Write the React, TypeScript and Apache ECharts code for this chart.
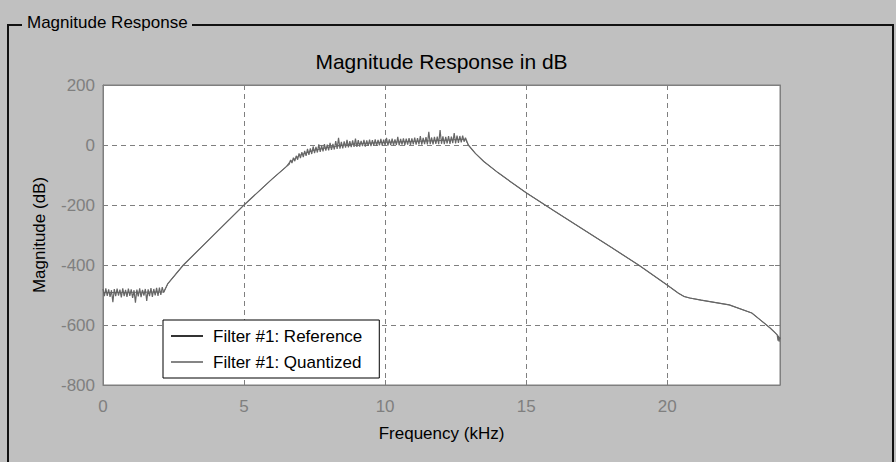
import React, { useEffect, useRef } from "react";
import * as echarts from "echarts";

// ---- data ----
const noiseStep = 0.05; // kHz sampling grid of the noisy segments

// Quantized filter, stopband noise, 0 .. 2.15 kHz
const stopNoiseStart = 0;
const stopbandNoise = [
  -480, -504, -478, -503, -481, -506, -484, -524, -480, -504,
  -479, -502, -482, -508, -478, -504, -483, -506, -479, -503,
  -481, -510, -484, -526, -482, -505, -478, -507, -483, -502,
  -480, -520, -481, -504, -477, -506, -480, -501, -476, -503,
  -475, -500, -474, -492,
];

// rising transition band (both filters)
const riseFreq = [2.3, 2.85, 4, 5, 6, 6.5];
const riseMag = [-462, -400, -293, -200, -113, -72];

// Quantized filter, passband noise, 6.6 .. 12.85 kHz
const passNoiseStart = 6.6;
const passbandNoise = [
  -64, -50, -60, -42, -54, -36, -49, -28, -44, -24,
  -40, -20, -36, -13, -33, -11, -30, -5, -27, -6,
  -25, 2, -23, -2, -21, 3, -19, 1, -18, 7,
  -16, 4, -15, 13, -13, 24, -12, 10, -11, 12,
  -9, 17, -8, 13, -7, 15, -6, 21, -6, 16,
  -5, 14, -4, 17, -5, 15, -3, 18, -4, 16,
  -2, 19, -3, 17, -1, 20, -2, 18, -1, 24,
  -2, 19, 0, 21, -1, 19, 0, 27, -1, 20,
  1, 22, 0, 21, 1, 23, 0, 22, 2, 25,
  1, 23, 2, 30, 1, 24, 3, 26, 2, 44,
  3, 25, 2, 27, 4, 28, 3, 50, 4, 29,
  3, 27, 5, 30, 4, 28, 6, 40, 5, 31,
  7, 30, 9, 31, 11, 24,
];

// falling transition / upper stopband (both filters)
const fallFreq = [12.95, 13.2, 13.5, 14, 14.5, 15, 16, 17, 18, 19, 20, 20.4, 20.6, 20.8, 21.2, 22.2, 23, 23.3, 23.65, 23.85];
const fallMag = [0, -28, -55, -92, -126, -159, -220, -280, -340, -401, -467, -494, -505, -510, -517, -533, -560, -583, -610, -628];

// Quantized filter, noise at the Nyquist end
const endNoiseFreq = [23.9, 23.93, 23.95, 23.97, 23.99, 24];
const endNoiseMag = [-633, -652, -636, -656, -640, -648];

// Reference filter (smooth) stopband / passband / end
const refStopFreq = [0, 2.15];
const refStopMag = [-492, -490];
const refPassFreq = [6.6, 6.8, 7, 7.5, 8, 8.5, 9, 10, 11, 12, 12.5, 12.85];
const refPassMag = [-58, -46, -33, -17, -8, -1, 4, 9, 12, 15, 18, 19];
const refEndFreq = [23.9, 24];
const refEndMag = [-633, -645];

// axes
const xTicks = [0, 5, 10, 15, 20];
const xMax = 24;
const yMin = -800;
const yMax = 200;
const yStep = 200;

const seriesNames = ["Filter #1: Reference", "Filter #1: Quantized"];

const zip = (f: number[], m: number[]) => f.map((v, i) => [v, m[i]]);
const grid = (start: number, vals: number[]) =>
  vals.map((v, i) => [+(start + i * noiseStep).toFixed(2), v]);

const referenceData = [
  ...zip(refStopFreq, refStopMag),
  ...zip(riseFreq, riseMag),
  ...zip(refPassFreq, refPassMag),
  ...zip(fallFreq, fallMag),
  ...zip(refEndFreq, refEndMag),
];

const quantizedData = [
  ...grid(stopNoiseStart, stopbandNoise),
  ...zip(riseFreq, riseMag),
  ...grid(passNoiseStart, passbandNoise),
  ...zip(fallFreq, fallMag),
  ...zip(endNoiseFreq, endNoiseMag),
];

const FONT = "'Liberation Sans', Arial, sans-serif";
const GRAY = "#7f7f7f";

export default function App() {
  const ref = useRef<HTMLDivElement>(null);
  useEffect(() => {
    if (!ref.current) return;
    const chart = echarts.init(ref.current, undefined, { renderer: "svg" });
    const gl = { left: 103, top: 85, width: 677, height: 300 };
    const axisLine = { show: true, onZero: false, lineStyle: { color: GRAY } };
    const axisTick = { show: true, inside: true, length: 5, lineStyle: { color: GRAY } };
    chart.setOption({
      animation: false,
      backgroundColor: "#c0c0c0",
      grid: {
        ...gl,
        show: true,
        backgroundColor: "#ffffff",
        borderColor: GRAY,
        borderWidth: 1,
      },
      graphic: [
        { type: "line", shape: { x1: 7, y1: 25, x2: 22, y2: 25 }, style: { stroke: "#111", lineWidth: 2 } },
        { type: "line", shape: { x1: 192, y1: 25, x2: 893, y2: 25 }, style: { stroke: "#111", lineWidth: 2 } },
        { type: "line", shape: { x1: 8, y1: 24, x2: 8, y2: 462 }, style: { stroke: "#111", lineWidth: 2 } },
        { type: "line", shape: { x1: 893, y1: 24, x2: 893, y2: 462 }, style: { stroke: "#111", lineWidth: 2 } },
        {
          type: "text",
          x: 27,
          y: 22,
          style: { text: "Magnitude Response", font: `17px ${FONT}`, fill: "#000", textVerticalAlign: "middle" },
        },
        {
          type: "text",
          x: 441.5,
          y: 61,
          style: {
            text: "Magnitude Response in dB",
            font: `21px ${FONT}`,
            fill: "#000",
            textAlign: "center",
            textVerticalAlign: "middle",
          },
        },
      ],
      legend: {
        orient: "vertical",
        left: 163,
        top: 320,
        padding: [7, 17, 7, 8],
        backgroundColor: "#ffffff",
        borderColor: "#000",
        borderWidth: 1,
        itemWidth: 32,
        itemHeight: 2,
        itemGap: 8,
        icon: "rect",
        data: seriesNames,
        textStyle: { fontSize: 17, color: "#000", fontFamily: FONT, lineHeight: 18, padding: [0, 0, 0, 5] },
      },
      xAxis: [
        {
          type: "value",
          min: xTicks[0],
          max: xMax,
          interval: xTicks[1] - xTicks[0],
          name: "Frequency (kHz)",
          nameLocation: "middle",
          nameGap: 40,
          nameTextStyle: { fontSize: 17, color: "#000", fontFamily: FONT },
          axisLine,
          axisTick,
          axisLabel: { color: GRAY, fontSize: 17, fontFamily: FONT, margin: 13, showMaxLabel: false },
          splitLine: { show: true, lineStyle: { color: GRAY, type: [5, 4], width: 1 } },
        },
        {
          type: "value",
          position: "top",
          min: xTicks[0],
          max: xMax,
          interval: xTicks[1] - xTicks[0],
          axisLine,
          axisTick,
          axisLabel: { show: false },
          splitLine: { show: false },
        },
      ],
      yAxis: [
        {
          type: "value",
          min: yMin,
          max: yMax,
          interval: yStep,
          name: "Magnitude (dB)",
          nameLocation: "middle",
          nameGap: 55,
          nameTextStyle: { fontSize: 17, color: "#000", fontFamily: FONT },
          axisLine,
          axisTick,
          axisLabel: { color: GRAY, fontSize: 17, fontFamily: FONT, margin: 8 },
          splitLine: { show: true, lineStyle: { color: GRAY, type: [5, 4], width: 1 } },
        },
        {
          type: "value",
          position: "right",
          min: yMin,
          max: yMax,
          interval: yStep,
          axisLine,
          axisTick,
          axisLabel: { show: false },
          splitLine: { show: false },
        },
      ],
      series: [
        {
          name: seriesNames[0],
          type: "line",
          xAxisIndex: 0,
          yAxisIndex: 0,
          data: referenceData,
          symbol: "none",
          showSymbol: false,
          color: "#333",
          lineStyle: { color: "#444", width: 0.8 },
          silent: true,
        },
        {
          name: seriesNames[1],
          type: "line",
          xAxisIndex: 0,
          yAxisIndex: 0,
          data: quantizedData,
          symbol: "none",
          showSymbol: false,
          color: "#858585",
          lineStyle: { color: "#666", width: 1.2 },
          silent: true,
        },
      ],
    });
    return () => chart.dispose();
  }, []);
  return (
    <div
      ref={ref}
      style={{ position: "fixed", left: 0, top: 0, width: 896, height: 462 }}
    />
  );
}
